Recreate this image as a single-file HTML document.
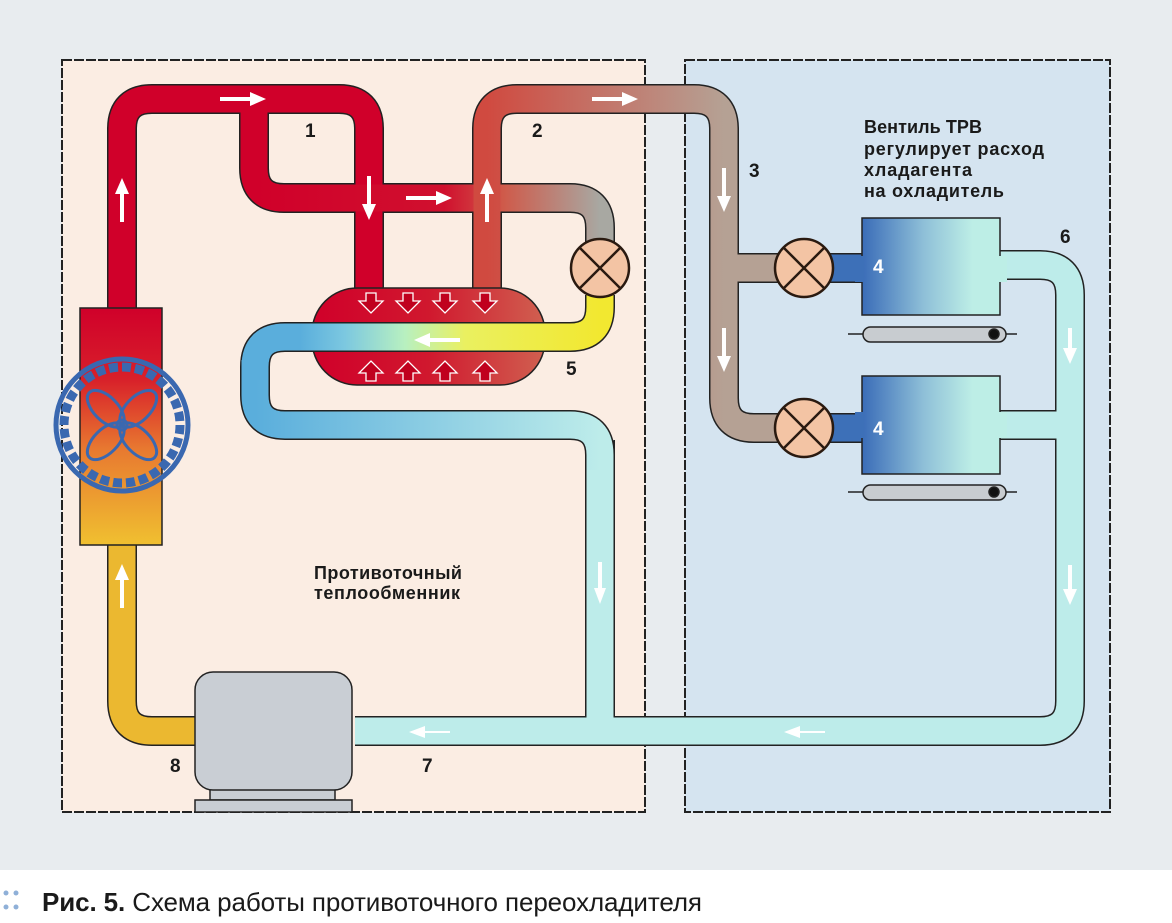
<!DOCTYPE html>
<html><head><meta charset="utf-8"><style>
body{margin:0;width:1172px;height:918px;overflow:hidden;background:#fff;font-family:"Liberation Sans",sans-serif}
</style></head><body>
<svg width="1172" height="918" viewBox="0 0 1172 918" xmlns="http://www.w3.org/2000/svg">
<defs>
<linearGradient id="gBr" gradientUnits="userSpaceOnUse" x1="254" y1="0" x2="600" y2="0">
<stop offset="0" stop-color="#d0002a"/><stop offset="0.55" stop-color="#d0102e"/><stop offset="0.72" stop-color="#cf5a4a"/><stop offset="1" stop-color="#a8a8a2"/></linearGradient>
<linearGradient id="g3" gradientUnits="userSpaceOnUse" x1="487" y1="0" x2="724" y2="0">
<stop offset="0" stop-color="#d04a40"/><stop offset="1" stop-color="#b5a194"/></linearGradient>
<linearGradient id="gBody" x1="0" y1="0" x2="1" y2="0">
<stop offset="0" stop-color="#d0002a"/><stop offset="0.5" stop-color="#d0182e"/><stop offset="1" stop-color="#d06050"/></linearGradient>
<linearGradient id="gYel" gradientUnits="userSpaceOnUse" x1="300" y1="0" x2="600" y2="0">
<stop offset="0" stop-color="#5aaedc"/><stop offset="0.15" stop-color="#7cc8e0"/><stop offset="0.35" stop-color="#b8f0c0"/><stop offset="0.55" stop-color="#eaf060"/><stop offset="1" stop-color="#f2e830"/></linearGradient>
<linearGradient id="gBl" gradientUnits="userSpaceOnUse" x1="255" y1="0" x2="600" y2="0">
<stop offset="0" stop-color="#5aaedc"/><stop offset="1" stop-color="#bdecea"/></linearGradient>
<linearGradient id="gCond" x1="0" y1="0" x2="0" y2="1">
<stop offset="0" stop-color="#d0002a"/><stop offset="0.3" stop-color="#d8202a"/><stop offset="0.6" stop-color="#e87a30"/><stop offset="1" stop-color="#f0c030"/></linearGradient>
<linearGradient id="gEv" x1="0" y1="0" x2="1" y2="0">
<stop offset="0" stop-color="#3a6cb8"/><stop offset="0.45" stop-color="#8fc0d8"/><stop offset="0.8" stop-color="#bdeee6"/><stop offset="1" stop-color="#bdeee6"/></linearGradient>
</defs>
<rect width="1172" height="870" fill="#e8ecef"/>
<rect x="62" y="60" width="583" height="752" fill="#fbede3" stroke="#222" stroke-width="2" stroke-dasharray="10,2"/>
<rect x="685" y="60" width="425" height="752" fill="#d5e4f0" stroke="#222" stroke-width="2" stroke-dasharray="10,2"/>

<g fill="none" stroke-linejoin="round">
<g stroke="#222" stroke-width="30">
<path d="M122,310 V129 Q122,99 152,99 H339 Q369,99 369,129 V300"/>
<path d="M254,99 V168 Q254,198 284,198 H570 Q600,198 600,228 V245"/>
<path d="M487,300 V129 Q487,99 517,99 H694 Q724,99 724,129 V398 Q724,428 754,428 H780"/>
<path d="M724,268 H780"/>
<path d="M355,731 H1040 Q1070,731 1070,701 V295 Q1070,265 1040,265 H1000"/>
<path d="M1000,425 H1070"/>
<path d="M600,440 V731"/>
<path d="M195,731 H152 Q122,731 122,701 V540"/>
<path d="M830,268 H865 M830,428 H865"/>
</g>
<g stroke-width="27">
<path d="M122,310 V129 Q122,99 152,99 H339 Q369,99 369,129 V300" stroke="#d0002a"/>
<path d="M254,99 V168 Q254,198 284,198 H570 Q600,198 600,228 V245" stroke="url(#gBr)"/>
<path d="M487,300 V129 Q487,99 517,99 H694 Q724,99 724,129 V398 Q724,428 754,428 H780" stroke="url(#g3)"/>
<path d="M724,268 H780" stroke="#b5a194"/>
<path d="M355,731 H1040 Q1070,731 1070,701 V295 Q1070,265 1040,265 H990" stroke="#bdecea"/>
<path d="M990,425 H1070" stroke="#bdecea"/>
<path d="M600,440 V740" stroke="#bdecea"/>
<path d="M205,731 H152 Q122,731 122,701 V530" stroke="#ebb830"/>
<path d="M825,268 H870 M825,428 H870" stroke="#3d70b8"/>
</g>
</g>
<rect x="312" y="288" width="233" height="97" rx="45" fill="url(#gBody)" stroke="#222" stroke-width="1.5"/>
<g fill="none" stroke-linejoin="round">
<path d="M600,295 V307 Q600,337 570,337 H285 Q255,337 255,367 V395 Q255,425 285,425 H570 Q600,425 600,455" stroke="#222" stroke-width="30"/>
<path d="M255,360 V395 Q255,425 285,425 H570 Q600,425 600,455 V470" stroke="url(#gBl)" stroke-width="27"/>
<path d="M600,290 V307 Q600,337 570,337 H285 Q255,337 255,367 V380" stroke="url(#gYel)" stroke-width="27"/>
</g>
<g fill="#c0001e" stroke="#fff" stroke-width="1.3">
<path d="M366,293 h10 v8 h7 l-12,12 l-12,-12 h7z"/>
<path d="M403,293 h10 v8 h7 l-12,12 l-12,-12 h7z"/>
<path d="M440,293 h10 v8 h7 l-12,12 l-12,-12 h7z"/>
<path d="M480,293 h10 v8 h7 l-12,12 l-12,-12 h7z"/>
<path d="M366,381 h10 v-8 h7 l-12,-12 l-12,12 h7z"/>
<path d="M403,381 h10 v-8 h7 l-12,-12 l-12,12 h7z"/>
<path d="M440,381 h10 v-8 h7 l-12,-12 l-12,12 h7z"/>
<path d="M480,381 h10 v-8 h7 l-12,-12 l-12,12 h7z"/>
</g>
<rect x="80" y="308" width="82" height="237" fill="url(#gCond)" stroke="#222" stroke-width="1.5"/>
<g fill="none" stroke="#3a68b0">
<circle cx="122" cy="425" r="66" stroke-width="5"/>
<circle cx="122" cy="425" r="58" stroke-width="9" stroke-dasharray="9,4"/>
<g stroke-width="3" transform="rotate(45 122 425)">
<ellipse cx="122" cy="402" rx="12" ry="23"/>
<ellipse cx="122" cy="448" rx="12" ry="23"/>
<ellipse cx="99" cy="425" rx="23" ry="12"/>
<ellipse cx="145" cy="425" rx="23" ry="12"/>
<circle cx="122" cy="425" r="5"/>
</g></g>
<g stroke="#2a1a10" stroke-width="2.5" fill="#f3c4a4">
<circle cx="600" cy="268" r="29"/><path d="M580,248 L620,288 M620,248 L580,288"/>
<circle cx="804" cy="268" r="29"/><path d="M784,248 L824,288 M824,248 L784,288"/>
<circle cx="804" cy="428" r="29"/><path d="M784,408 L824,448 M824,408 L784,448"/>
</g>
<rect x="862" y="218" width="138" height="97" fill="url(#gEv)" stroke="#222" stroke-width="1.5"/>
<rect x="862" y="376" width="138" height="98" fill="url(#gEv)" stroke="#222" stroke-width="1.5"/>
<rect x="999" y="256" width="8" height="26" fill="#bdeee6"/>
<rect x="999" y="412" width="8" height="26" fill="#bdeee6"/>
<rect x="855" y="256" width="9" height="26" fill="#3d70b8"/>
<rect x="855" y="412" width="9" height="26" fill="#3d70b8"/>
<g stroke="#222" stroke-width="1.5">
<path d="M848,334 H1017 M848,492 H1017"/>
<rect x="863" y="327" width="143" height="15" rx="7.5" fill="#c8ccd0"/>
<rect x="863" y="485" width="143" height="15" rx="7.5" fill="#c8ccd0"/>
<circle cx="994" cy="334" r="5" fill="#111"/><circle cx="994" cy="492" r="5" fill="#111"/>
</g>
<rect x="210" y="787" width="125" height="13" fill="#c9ced4" stroke="#222" stroke-width="1.5"/>
<rect x="195" y="800" width="157" height="12" fill="#c9ced4" stroke="#222" stroke-width="1.5"/>
<rect x="195" y="672" width="157" height="118" rx="18" fill="#c9ced4" stroke="#222" stroke-width="1.5"/>
<g fill="#fff">
<path d="M220,97 h30 v-5 l16,7 l-16,7 v-5 h-30z"/>
<path d="M592,97 h30 v-5 l16,7 l-16,7 v-5 h-30z"/>
<path d="M406,196 h30 v-5 l16,7 l-16,7 v-5 h-30z"/>
<path d="M460,338 h-30 v-5 l-16,7 l16,7 v-5 h30z"/>
<path d="M450,731 h-25 v-5 l-16,6 l16,6 v-5 h25z"/>
<path d="M825,731 h-25 v-5 l-16,6 l16,6 v-5 h25z"/>
<path d="M120,222 v-28 h-5 l7,-16 l7,16 h-5 v28z"/>
<path d="M120,608 v-28 h-5 l7,-16 l7,16 h-5 v28z"/>
<path d="M485,222 v-28 h-5 l7,-16 l7,16 h-5 v28z"/>
<path d="M367,176 v28 h-5 l7,16 l7,-16 h-5 v-28z"/>
<path d="M722,168 v28 h-5 l7,16 l7,-16 h-5 v-28z"/>
<path d="M722,328 v28 h-5 l7,16 l7,-16 h-5 v-28z"/>
<path d="M1068,328 v20 h-5 l7,16 l7,-16 h-5 v-20z"/>
<path d="M1068,565 v24 h-5 l7,16 l7,-16 h-5 v-24z"/>
<path d="M598,562 v26 h-4 l6,16 l6,-16 h-4 v-26z"/>
</g>
<g font-family="Liberation Sans Narrow, Liberation Sans, sans-serif" font-weight="bold" font-size="19" fill="#1a1a1a">
<text x="305" y="137">1</text><text x="532" y="137">2</text><text x="749" y="177">3</text>
<text x="566" y="375">5</text><text x="1060" y="243">6</text><text x="422" y="772">7</text><text x="170" y="772">8</text>
<text x="873" y="273" fill="#fff">4</text><text x="873" y="435" fill="#fff">4</text>
</g>
<g font-family="Liberation Sans Narrow, Liberation Sans, sans-serif" font-weight="bold" font-size="18" fill="#1a1a1a">
<text x="864" y="133" textLength="118">Вентиль ТРВ</text>
<text x="864" y="155" textLength="180">регулирует расход</text>
<text x="864" y="176" textLength="108">хладагента</text>
<text x="864" y="197" textLength="140">на охладитель</text>
<text x="314" y="579" textLength="148">Противоточный</text>
<text x="314" y="599" textLength="146">теплообменник</text>
</g>
<g fill="#8fb0d8"><circle cx="6" cy="893" r="2.5"/><circle cx="16" cy="893" r="2.5"/><circle cx="6" cy="907" r="2.5"/><circle cx="16" cy="907" r="2.5"/></g>
<text x="42" y="911" font-family="Liberation Sans Narrow, Liberation Sans, sans-serif" font-size="26" fill="#1a1a1a" textLength="660"><tspan font-weight="bold">Рис. 5.</tspan> Схема работы противоточного переохладителя</text>
</svg>
</body></html>
